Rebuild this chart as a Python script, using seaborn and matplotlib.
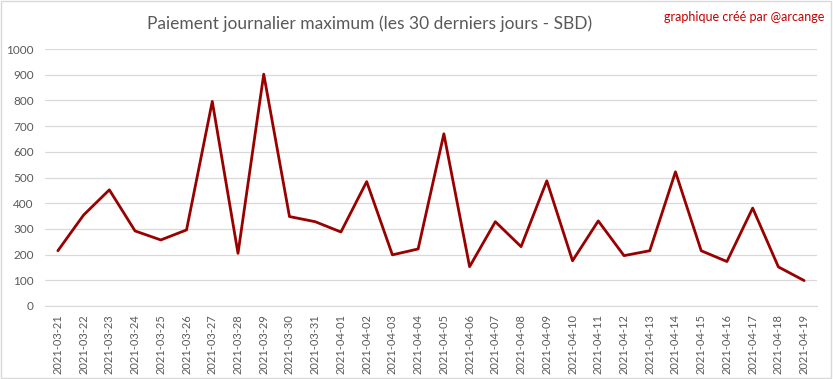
import matplotlib.pyplot as plt
import matplotlib.patches as mpatches
import pandas as pd
import seaborn as sns

dates = ['2021-03-21', '2021-03-22', '2021-03-23', '2021-03-24', '2021-03-25',
         '2021-03-26', '2021-03-27', '2021-03-28', '2021-03-29', '2021-03-30',
         '2021-03-31', '2021-04-01', '2021-04-02', '2021-04-03', '2021-04-04',
         '2021-04-05', '2021-04-06', '2021-04-07', '2021-04-08', '2021-04-09',
         '2021-04-10', '2021-04-11', '2021-04-12', '2021-04-13', '2021-04-14',
         '2021-04-15', '2021-04-16', '2021-04-17', '2021-04-18', '2021-04-19']
payout = [215, 354, 452, 292, 257, 296, 796, 205, 902, 348,
          328, 288, 484, 199, 222, 670, 153, 328, 231, 487,
          176, 331, 196, 215, 522, 215, 173, 381, 152, 99]
yticks = list(range(0, 1001, 100))

df = pd.DataFrame({'date': dates, 'payout': payout})

sns.set_style('white')
plt.rcParams['font.family'] = ['Lato', 'DejaVu Sans']

fig = plt.figure(figsize=(8.33, 3.79), dpi=100)
ax = fig.add_axes([45 / 833, 1 - 306 / 379, 772 / 833, 257 / 379])

sns.lineplot(data=df, x='date', y='payout', ax=ax, color='#990000', linewidth=2.0)

ax.set_ylim(0, 1000)
ax.set_xlim(-0.5, len(dates) - 0.5)
ax.set_yticks(yticks)
ax.yaxis.grid(True, color='#d9d9d9', linewidth=0.9)
ax.set_axisbelow(True)
for s in ['top', 'right', 'left']:
    ax.spines[s].set_visible(False)
ax.spines['bottom'].set_color('#d9d9d9')
ax.tick_params(axis='x', rotation=90, labelsize=8, colors='#595959', length=0, pad=6)
ax.tick_params(axis='y', labelsize=8.5, colors='#595959', length=0, pad=8)
ax.set_xlabel('')
ax.set_ylabel('')

fig.text(370 / 833, 1 - 24 / 379, 'Paiement journalier maximum (les 30 derniers jours - SBD)',
         ha='center', va='center', fontsize=12.5, color='#595959')
fig.text(824 / 833, 1 - 17 / 379, 'graphique créé par @arcange',
         ha='right', va='center', fontsize=9, color='#c00000')

fig.patches.append(mpatches.Rectangle((0.001, 0.002), 0.997, 0.995, transform=fig.transFigure,
                                      fill=False, edgecolor='#d9d9d9', linewidth=1))

plt.savefig('out.png', dpi=100)
